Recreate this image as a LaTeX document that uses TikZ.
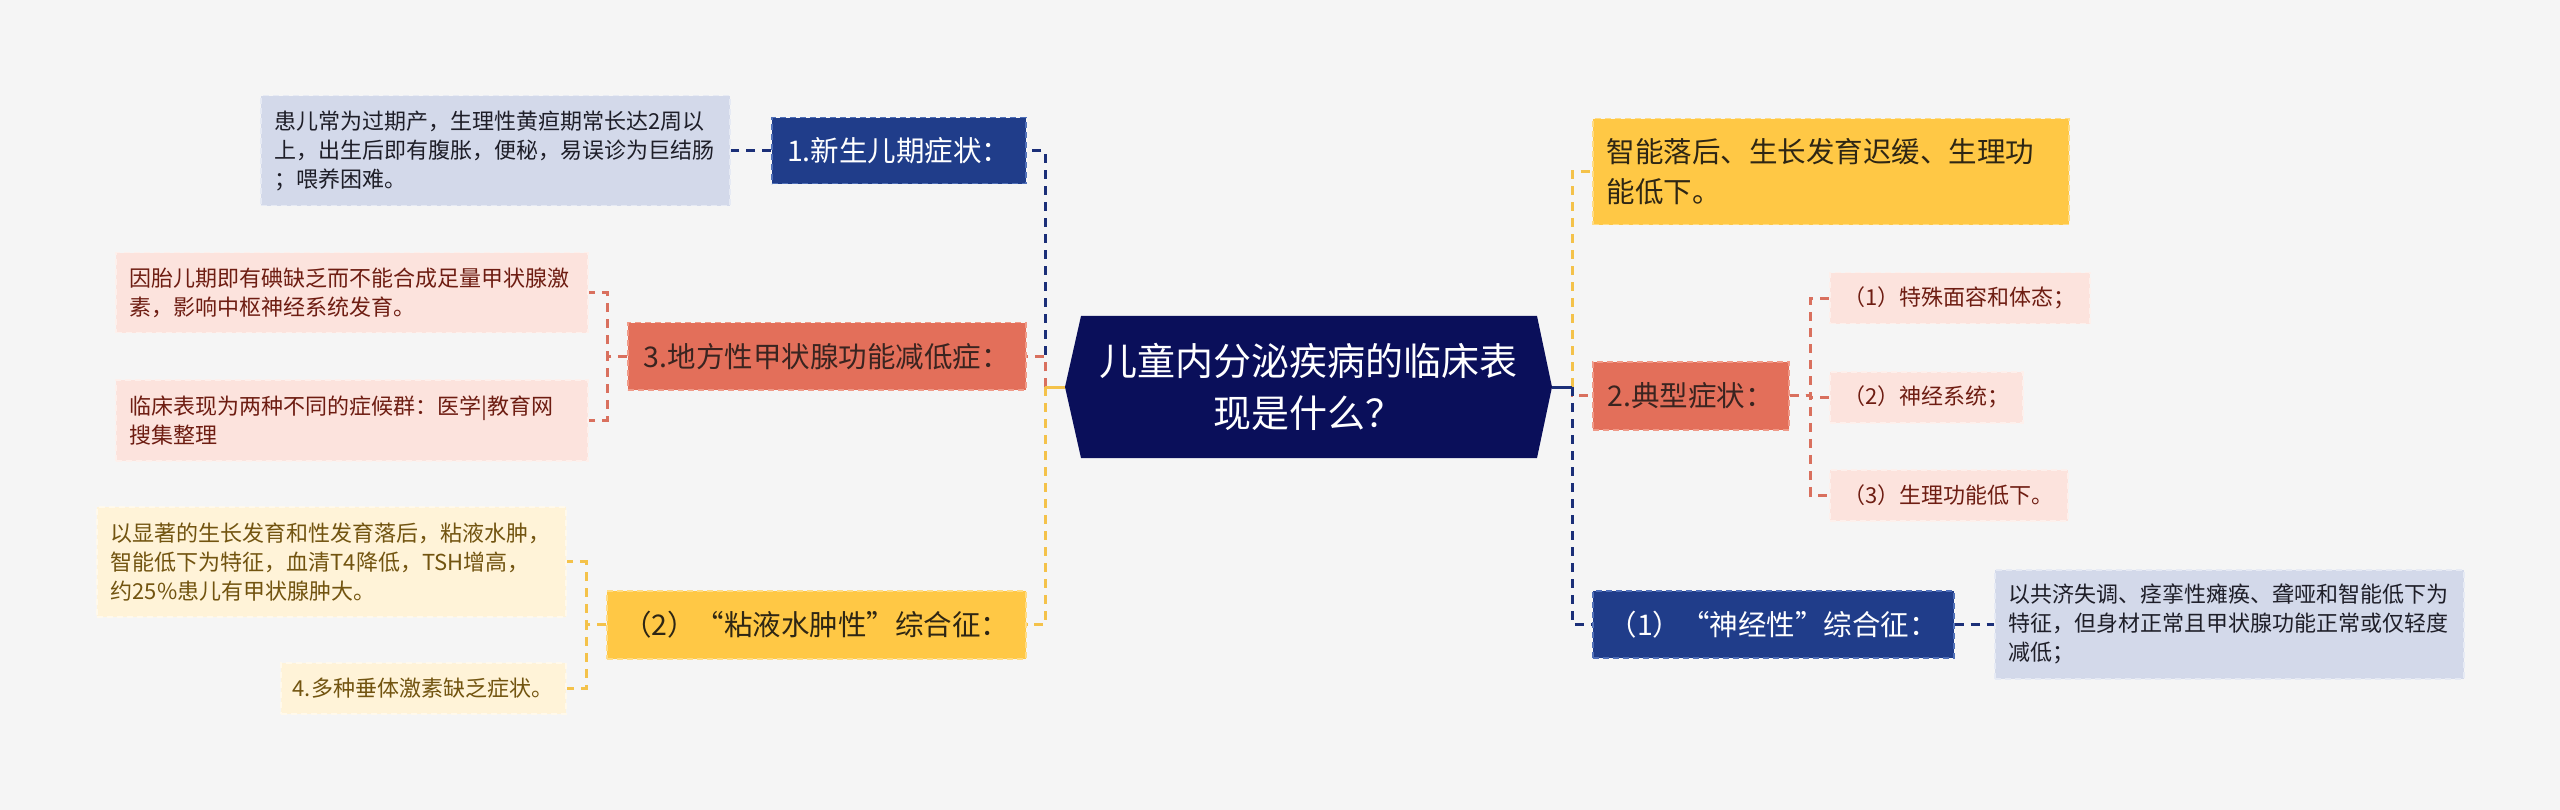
\documentclass[tikz,border=0pt]{standalone}
\usepackage{fontspec}
\setmainfont{Noto Sans CJK SC}
\usetikzlibrary{calc}
\definecolor{bgc}{HTML}{F5F5F5}
\definecolor{navy}{HTML}{0A0F5A}
\definecolor{blueN}{HTML}{203D8A}
\definecolor{blueNb}{HTML}{5070B8}
\definecolor{blueL}{HTML}{D3D9EA}
\definecolor{blueLb}{HTML}{E6EAF4}
\definecolor{blueLt}{HTML}{1E1E28}
\definecolor{redN}{HTML}{E36F5A}
\definecolor{redNb}{HTML}{F09A88}
\definecolor{redNt}{HTML}{3A2420}
\definecolor{redL}{HTML}{FCE3DD}
\definecolor{redLb}{HTML}{FDF0EC}
\definecolor{redLt}{HTML}{6E1D12}
\definecolor{yelN}{HTML}{FFC845}
\definecolor{yelNb}{HTML}{FFDC85}
\definecolor{yelNt}{HTML}{2E2614}
\definecolor{yelL}{HTML}{FFF3D8}
\definecolor{yelLb}{HTML}{FFF9EC}
\definecolor{yelLt}{HTML}{725410}
\definecolor{blueC}{HTML}{1B2F78}
\definecolor{redC}{HTML}{D9705E}
\definecolor{yelC}{HTML}{F4C24A}
\newcommand\szLeaf{\fontsize{22}{29}\selectfont}
\newcommand\szNode{\fontsize{28.5}{40}\selectfont}
\newcommand\szCore{\fontsize{38}{52}\selectfont}
\tikzset{
  lv/.style={inner sep=0pt, anchor=north west, line width=1.5pt, dash pattern=on 6pt off 4pt, font=\szNode},
  bN/.style={lv, fill=blueN, draw=blueNb, text=white},
  rN/.style={lv, fill=redN, draw=redNb, text=redNt},
  yN/.style={lv, fill=yelN, draw=yelNb, text=yelNt},
  lf/.style={inner xsep=14pt, inner ysep=0pt, anchor=north west, align=left, line width=1.5pt, dash pattern=on 6pt off 4pt, font=\szLeaf},
  bL/.style={lf, fill=blueL, draw=blueLb, text=blueLt},
  rL/.style={lf, fill=redL, draw=redLb, text=redLt},
  yL/.style={lf, fill=yelL, draw=yelLb, text=yelLt},
  cB/.style={draw=blueC, line width=3pt, dash pattern=on 9pt off 7pt},
  cR/.style={draw=redC, line width=3pt, dash pattern=on 9pt off 7pt},
  cY/.style={draw=yelC, line width=3pt, dash pattern=on 9pt off 7pt},
}
\begin{document}
\begin{tikzpicture}[x=1pt,y=1pt]
\fill[bgc] (0,0) rectangle (2560,-810);
\useasboundingbox (0,0) rectangle (2560,-810);

% central topic
\fill[navy] (1065,-387) -- (1081,-316) -- (1537,-316) -- (1552,-387) -- (1537,-458) -- (1081,-458) -- cycle;
\node[font=\szCore, text=white, align=center] (c) at (1308.5,-387) {儿童内分泌疾病的临床表\\现是什么？};
\coordinate (cl) at (1065,-387);
\coordinate (cr) at (1552,-387);
\coordinate (lt) at (1045,-387);
\coordinate (rt) at (1572,-387);

% left side
\node[bN, minimum width=254pt, minimum height=66pt] (n1) at (771,-117) {1.新生儿期症状：};
\node[bL, text width=441pt, minimum height=110pt] (l1a) at (260,-95) {患儿常为过期产，生理性黄疸期常长达2周以\\上，出生后即有腹胀，便秘，易误诊为巨结肠\\；喂养困难。};

\node[rN, minimum width=398pt, minimum height=67pt] (n3) at (627,-322) {3.地方性甲状腺功能减低症：};
\node[rL, text width=444pt, minimum height=80pt] (l3a) at (115,-252) {因胎儿期即有碘缺乏而不能合成足量甲状腺激\\素，影响中枢神经系统发育。};
\node[rL, text width=444pt, minimum height=81pt] (l3b) at (115,-379) {临床表现为两种不同的症候群：医学|教育网\\搜集整理};

\node[yN, minimum width=419pt, minimum height=68pt] (n2) at (606,-590) {（2）“粘液水肿性”综合征：};
\node[yL, text width=441pt, minimum height=110pt] (l2a) at (96,-506) {以显著的生长发育和性发育落后，粘液水肿，\\智能低下为特征，血清T4降低，TSH增高，\\约25\%患儿有甲状腺肿大。};
\node[yL, inner xsep=12pt, text width=261pt, minimum height=51pt] (l2b) at (280,-662) {4.多种垂体激素缺乏症状。};

% right side
\node[yN, align=left, inner xsep=14pt, text width=448pt, minimum height=106pt] (r1) at (1592,-118) {智能落后、生长发育迟缓、生理功\\能低下。};
\node[rN, minimum width=196pt, minimum height=68pt] (r2) at (1592,-361) {2.典型症状：};
\node[rL, text width=232pt, minimum height=51pt] (r2a) at (1829,-272) {（1）特殊面容和体态；};
\node[rL, text width=165pt, minimum height=51pt] (r2b) at (1829,-371) {（2）神经系统；};
\node[rL, text width=210pt, minimum height=51pt] (r2c) at (1829,-469) {（3）生理功能低下。};
\node[bN, minimum width=361pt, minimum height=67pt] (r3) at (1592,-590) {（1）“神经性”综合征：};
\node[bL, text width=441pt, minimum height=109pt] (r3a) at (1994,-569) {以共济失调、痉挛性瘫痪、聋哑和智能低下为\\特征，但身材正常且甲状腺功能正常或仅轻度\\减低；};

% connectors from the central topic
\draw[cB] (lt) |- (n1.east);
\draw[cR] (lt) |- (n3.east);
\draw[cY] (lt) |- (n2.east);
\draw[yelC, line width=3pt] (cl) -- (lt);

\draw[cY] (rt) |- (r1.west);
\draw[cR] (rt) |- (r2.west);
\draw[cB] (rt) |- (r3.west);
\draw[blueC, line width=3pt] (cr) -- (rt);

% second-level connectors
\draw[cB] (n1.west) -- (l1a.east);

\coordinate (t3) at ($(n3.west)+(-20,0)$);
\draw[cR] (n3.west) -- (t3) |- (l3a.east);
\draw[cR] (n3.west) -- (t3) |- (l3b.east);

\coordinate (t2) at ($(n2.west)+(-20,0)$);
\draw[cY] (n2.west) -- (t2) |- (l2a.east);
\draw[cY] (n2.west) -- (t2) |- (l2b.east);

\coordinate (u2) at ($(r2.east)+(21,0)$);
\draw[cR] (r2.east) -- (u2) |- (r2a.west);
\draw[cR] (r2.east) -- (u2) |- (r2b.west);
\draw[cR] (r2.east) -- (u2) |- (r2c.west);

\draw[cB] (r3.east) -- (r3a.west);
\end{tikzpicture}
\end{document}
